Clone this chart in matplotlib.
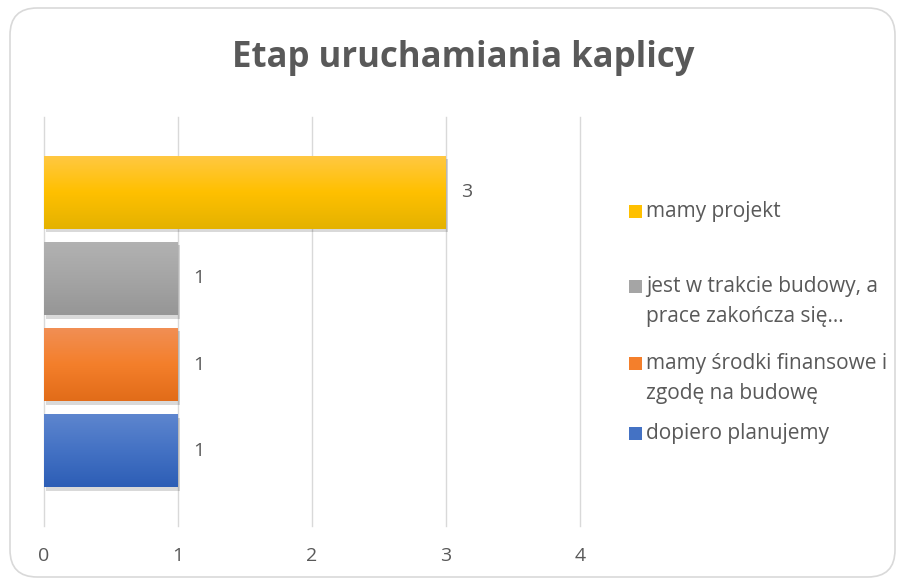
import numpy as np
import matplotlib
matplotlib.use("Agg")
import matplotlib.pyplot as plt
from matplotlib.patches import FancyBboxPatch, Rectangle
from matplotlib.colors import LinearSegmentedColormap
import matplotlib.patheffects as pe

plt.rcParams['font.family'] = ['Open Sans', 'DejaVu Sans']

title = "Etap uruchamiania kaplicy"
categories = ["dopiero planujemy", "mamy środki finansowe i\nzgodę na budowę",
              "jest w trakcie budowy, a\nprace zakończa się...", "mamy projekt"]
values = [1, 1, 1, 3]
xticks = [0, 1, 2, 3, 4]
grad_colors = [("#5E86CF", "#4472C4", "#2D5EB6"),
               ("#F18F55", "#F47F2B", "#E26C19"),
               ("#B2B2B2", "#A5A5A5", "#969696"),
               ("#FFC843", "#FFC000", "#E4B200")]

txt = "#595959"
fig = plt.figure(figsize=(9.05, 5.81), dpi=100)
fig.patches.append(FancyBboxPatch((10/905, 4/581), 885/905, 569/581,
                                  boxstyle="round,pad=0,rounding_size=0.03",
                                  transform=fig.transFigure, facecolor="white",
                                  edgecolor="#d9d9d9", linewidth=1.2, zorder=-10,
                                  mutation_aspect=905/581))

ax = fig.add_axes([44/905, (581-526)/581, 536/905, 409/581])
ax.set_facecolor("none")
y = np.arange(len(categories))
bars = ax.barh(y, values, height=0.85, color=[c[1] for c in grad_colors], zorder=3,
               path_effects=[pe.SimplePatchShadow(offset=(1.5, -2.5), alpha=0.15, shadow_rgbFace="black"),
                             pe.Normal()])
for b, cols in zip(bars, grad_colors):
    cmap = LinearSegmentedColormap.from_list("g", [cols[0], cols[1], cols[2]])
    grad = np.linspace(0, 1, 100).reshape(-1, 1)
    x0, y0 = b.get_x(), b.get_y()
    w, h = b.get_width(), b.get_height()
    im = ax.imshow(grad, cmap=cmap, aspect="auto", extent=(x0, x0 + w, y0, y0 + h),
                   origin="upper", zorder=4, interpolation="bicubic")
    im.set_clip_path(b)

for yi, v in zip(y, values):
    ax.text(v + 0.11, yi, str(v), va="center", ha="left", fontsize=14, color=txt)

ax.set_xlim(0, 4)
ax.set_ylim(-0.872, 3.872)
ax.set_xticks(xticks)
ax.set_xticklabels([str(t) for t in xticks], fontsize=14, color=txt)
ax.set_yticks([])
ax.tick_params(axis="x", length=0, pad=15)
ax.grid(axis="x", color="#d9d9d9", linewidth=1, zorder=0, clip_on=False)
for gl in ax.get_xgridlines():
    gl.set_clip_on(False)
for s in ax.spines.values():
    s.set_visible(False)

fig.text(463/905, 1 - 58/581, title, ha="center", va="center", fontsize=25,
         fontweight="bold", color=txt)

# legend (top to bottom: reversed category order)
leg_y = [212, 287, 364, 434]
for lab, cols, ly in zip(categories[::-1], grad_colors[::-1], leg_y):
    fig.patches.append(Rectangle((629/905, 1 - (ly + 6)/581), 13/905, 13/581,
                                 transform=fig.transFigure, facecolor=cols[1],
                                 edgecolor="none"))
    for i, line in enumerate(lab.split("\n")):
        fig.text(646/905, 1 - (ly + i * 29)/581, line, ha="left", va="center",
                 fontsize=15, color=txt)

fig.savefig("out.png", dpi=100)
